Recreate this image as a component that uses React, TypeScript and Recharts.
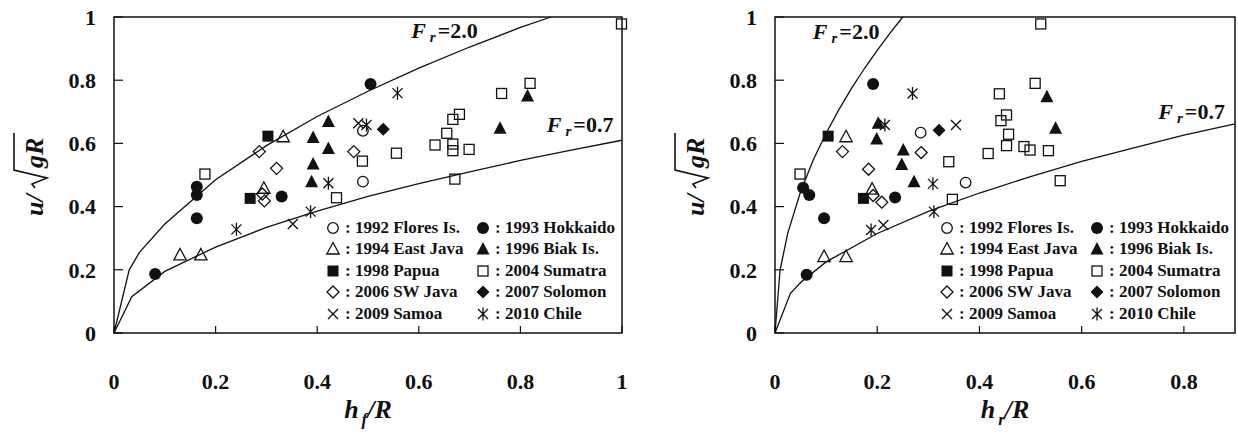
import {
  ScatterChart,
  Scatter,
  XAxis,
  YAxis,
  ReferenceArea,
  ReferenceDot,
  Legend,
} from 'recharts';

type Pair = [number, number];

// ---- left panel: h_f / R ----
const HF_FLORES: Pair[] = [[0.49, 0.479], [0.49, 0.64]];
const HF_HOKKAIDO: Pair[] = [[0.081, 0.187], [0.163, 0.363], [0.163, 0.437], [0.163, 0.463], [0.33, 0.432], [0.505, 0.788]];
const HF_EASTJAVA: Pair[] = [[0.13, 0.247], [0.171, 0.247], [0.295, 0.458], [0.333, 0.621]];
const HF_BIAK: Pair[] = [[0.389, 0.479], [0.392, 0.535], [0.392, 0.619], [0.422, 0.584], [0.422, 0.669], [0.76, 0.648], [0.814, 0.75]];
const HF_PAPUA: Pair[] = [[0.268, 0.426], [0.303, 0.623]];
const HF_SUMATRA: Pair[] = [
  [0.179, 0.503], [0.438, 0.428], [0.489, 0.544], [0.556, 0.569], [0.632, 0.595],
  [0.655, 0.632], [0.667, 0.598], [0.667, 0.577], [0.699, 0.581], [0.667, 0.676],
  [0.68, 0.692], [0.763, 0.758], [0.819, 0.79], [0.671, 0.487], [0.999, 0.978],
];
const HF_SWJAVA: Pair[] = [[0.286, 0.574], [0.32, 0.521], [0.472, 0.574], [0.292, 0.44], [0.296, 0.418]];
const HF_SOLOMON: Pair[] = [[0.53, 0.645]];
const HF_SAMOA: Pair[] = [[0.352, 0.345], [0.481, 0.664]];
const HF_CHILE: Pair[] = [[0.241, 0.328], [0.387, 0.384], [0.422, 0.474], [0.497, 0.658], [0.558, 0.759]];

const HF_FR20: Pair[] = [
  [0, 0], [0.03, 0.2], [0.05, 0.255], [0.1, 0.345], [0.2, 0.485], [0.3, 0.593],
  [0.4, 0.685], [0.5, 0.765], [0.6, 0.838], [0.7, 0.905], [0.8, 0.967], [0.86, 1.0],
];
const HF_FR07: Pair[] = [
  [0, 0], [0.035, 0.115], [0.1, 0.195], [0.2, 0.272], [0.3, 0.334], [0.4, 0.386],
  [0.5, 0.432], [0.6, 0.473], [0.7, 0.51], [0.8, 0.546], [0.9, 0.579], [1, 0.61],
];

// ---- right panel: h_r / R ----
const HR_FLORES: Pair[] = [[0.285, 0.634], [0.373, 0.476]];
const HR_HOKKAIDO: Pair[] = [[0.055, 0.46], [0.067, 0.437], [0.096, 0.363], [0.062, 0.184], [0.192, 0.788], [0.235, 0.429]];
const HR_EASTJAVA: Pair[] = [[0.096, 0.242], [0.139, 0.242], [0.19, 0.455], [0.139, 0.621]];
const HR_BIAK: Pair[] = [[0.202, 0.664], [0.199, 0.614], [0.251, 0.579], [0.248, 0.533], [0.272, 0.479], [0.532, 0.748], [0.549, 0.648]];
const HR_PAPUA: Pair[] = [[0.104, 0.623], [0.173, 0.426]];
const HR_SUMATRA: Pair[] = [
  [0.049, 0.503], [0.347, 0.423], [0.34, 0.542], [0.417, 0.568], [0.439, 0.757],
  [0.442, 0.672], [0.453, 0.69], [0.457, 0.629], [0.453, 0.593], [0.487, 0.59],
  [0.499, 0.579], [0.535, 0.577], [0.558, 0.482], [0.509, 0.79], [0.52, 0.978],
];
const HR_SWJAVA: Pair[] = [[0.132, 0.574], [0.183, 0.518], [0.286, 0.571], [0.192, 0.435], [0.209, 0.414]];
const HR_SOLOMON: Pair[] = [[0.321, 0.642]];
const HR_SAMOA: Pair[] = [[0.212, 0.342], [0.354, 0.658]];
const HR_CHILE: Pair[] = [[0.188, 0.326], [0.311, 0.384], [0.309, 0.472], [0.215, 0.658], [0.269, 0.758]];

const HR_FR20: Pair[] = [
  [0, 0], [0.01, 0.2], [0.025, 0.316], [0.05, 0.447], [0.075, 0.548], [0.1, 0.632],
  [0.125, 0.707], [0.15, 0.775], [0.175, 0.837], [0.2, 0.894], [0.225, 0.949], [0.25, 1.0],
];
const HR_FR07: Pair[] = [
  [0, 0], [0.03, 0.125], [0.05, 0.16], [0.1, 0.225], [0.2, 0.315], [0.3, 0.385],
  [0.4, 0.443], [0.5, 0.495], [0.6, 0.543], [0.7, 0.585], [0.8, 0.626], [0.9, 0.662],
];

const EVENT_NAMES = [
  '1992 Flores Is.', '1993 Hokkaido', '1994 East Java', '1996 Biak Is.', '1998 Papua',
  '2004 Sumatra', '2006 SW Java', '2007 Solomon', '2009 Samoa', '2010 Chile',
];
const EVENT_MARKERS = [
  'circleO', 'circle', 'triO', 'tri', 'square', 'squareO', 'diamondO', 'diamond', 'cross', 'star',
];

const HF_SETS = [HF_FLORES, HF_HOKKAIDO, HF_EASTJAVA, HF_BIAK, HF_PAPUA, HF_SUMATRA, HF_SWJAVA, HF_SOLOMON, HF_SAMOA, HF_CHILE];
const HR_SETS = [HR_FLORES, HR_HOKKAIDO, HR_EASTJAVA, HR_BIAK, HR_PAPUA, HR_SUMATRA, HR_SWJAVA, HR_SOLOMON, HR_SAMOA, HR_CHILE];

const Y_TICKS = [0, 0.2, 0.4, 0.6, 0.8, 1];
const HF_TICKS = [0, 0.2, 0.4, 0.6, 0.8, 1];
const HR_TICKS = [0, 0.2, 0.4, 0.6, 0.8];

const INK = '#111';
const SERIF = "'Liberation Serif', 'Times New Roman', serif";
const TICK_STYLE = { fontSize: 22, fill: INK, fontWeight: 'bold', fontFamily: SERIF };

const toPts = (arr: Pair[]) => arr.map(([x, y]) => ({ x, y }));
const fmt = (v: number) => (v === 0 || v === 1 ? String(v) : v.toFixed(1));

function Marker({ kind, cx, cy }: { kind: string; cx: number; cy: number }) {
  const sw = 1.3;
  switch (kind) {
    case 'circleO':
      return <circle cx={cx} cy={cy} r={5.3} fill="none" stroke={INK} strokeWidth={sw} />;
    case 'circle':
      return <circle cx={cx} cy={cy} r={6} fill={INK} />;
    case 'triO':
      return <polygon points={`${cx},${cy - 6.5} ${cx + 6.2},${cy + 5} ${cx - 6.2},${cy + 5}`} fill="none" stroke={INK} strokeWidth={sw} />;
    case 'tri':
      return <polygon points={`${cx},${cy - 7} ${cx + 6.5},${cy + 5.5} ${cx - 6.5},${cy + 5.5}`} fill={INK} />;
    case 'square':
      return <rect x={cx - 5.5} y={cy - 5.5} width={11} height={11} fill={INK} />;
    case 'squareO':
      return <rect x={cx - 5} y={cy - 5} width={10} height={10} fill="none" stroke={INK} strokeWidth={sw} />;
    case 'diamondO':
      return <polygon points={`${cx},${cy - 6} ${cx + 6},${cy} ${cx},${cy + 6} ${cx - 6},${cy}`} fill="none" stroke={INK} strokeWidth={sw} />;
    case 'diamond':
      return <polygon points={`${cx},${cy - 6.5} ${cx + 6.5},${cy} ${cx},${cy + 6.5} ${cx - 6.5},${cy}`} fill={INK} />;
    case 'cross':
      return (
        <path d={`M${cx - 5},${cy - 5}L${cx + 5},${cy + 5}M${cx - 5},${cy + 5}L${cx + 5},${cy - 5}`} stroke={INK} strokeWidth={sw} />
      );
    default:
      return (
        <path
          d={`M${cx - 5},${cy - 5}L${cx + 5},${cy + 5}M${cx - 5},${cy + 5}L${cx + 5},${cy - 5}M${cx},${cy - 6.5}L${cx},${cy + 6.5}`}
          stroke={INK}
          strokeWidth={sw}
        />
      );
  }
}

function FrText({ cx, cy, value }: { cx: number; cy: number; value: string }) {
  return (
    <text x={cx} y={cy} fill={INK} fontFamily={SERIF} fontWeight="bold" fontSize={22}>
      <tspan fontStyle="italic">F</tspan>
      <tspan fontStyle="italic" fontSize={15} dx={4} dy={4}>r</tspan>
      <tspan dx={2} dy={-4}>{'=' + value}</tspan>
    </text>
  );
}

function XTitle({ viewBox, sub }: any) {
  const cx = viewBox.x + viewBox.width / 2;
  const by = viewBox.y + 85;
  return (
    <text x={cx} y={by} textAnchor="middle" fill={INK} fontFamily={SERIF} fontWeight="bold" fontStyle="italic" fontSize={26}>
      <tspan>h</tspan>
      <tspan fontSize={17} dx={3} dy={7}>{sub}</tspan>
      <tspan dy={-7}>/R</tspan>
    </text>
  );
}

function YTitle({ viewBox }: any) {
  const cx = viewBox.x - 21;
  const cy = viewBox.y + viewBox.height / 2;
  return (
    <g transform={`translate(${cx},${cy}) rotate(-90)`} fill={INK} fontFamily={SERIF} fontWeight="bold" fontStyle="italic" fontSize={26}>
      <text x={-41} y={10}>u/</text>
      <path d="M-13,2 L-9,-1 L-3,14 L5,-19 L42,-19" fill="none" stroke={INK} strokeWidth={1.6} />
      <text x={7} y={10}>gR</text>
    </g>
  );
}

function LegendBox() {
  return (
    <div
      style={{
        display: 'grid',
        gridTemplateColumns: '150px 160px',
        fontFamily: SERIF,
        fontWeight: 'bold',
        fontSize: 17,
        color: INK,
      }}
    >
      {EVENT_NAMES.map((name, i) => (
        <div key={name} style={{ display: 'flex', alignItems: 'center', height: 21.5, whiteSpace: 'nowrap' }}>
          <svg width={14} height={14} style={{ overflow: 'visible' }}>
            <Marker kind={EVENT_MARKERS[i]} cx={7} cy={7} />
          </svg>
          <span style={{ marginLeft: 5 }}>{': ' + name}</span>
        </div>
      ))}
    </div>
  );
}

interface PanelProps {
  width: number;
  marginLeft: number;
  marginRight: number;
  xMax: number;
  xTicks: number[];
  sets: Pair[][];
  fr20: Pair[];
  fr07: Pair[];
  lab20: Pair;
  lab07: Pair;
  sub: string;
  legendLeft: number;
}

function Panel(p: PanelProps) {
  return (
    <ScatterChart
      width={p.width}
      height={437}
      margin={{ top: 17, right: p.marginRight, bottom: 44, left: p.marginLeft }}
    >
      <XAxis
        type="number"
        dataKey="x"
        domain={[0, p.xMax]}
        ticks={p.xTicks}
        interval={0}
        height={60}
        tickSize={-7}
        tickMargin={47}
        axisLine={false}
        tickLine={{ stroke: INK, strokeWidth: 1.2 }}
        tick={TICK_STYLE}
        tickFormatter={fmt}
        label={{ content: (lp: any) => <XTitle viewBox={lp.viewBox} sub={p.sub} /> }}
      />
      <YAxis
        type="number"
        dataKey="y"
        domain={[0, 1]}
        ticks={Y_TICKS}
        interval={0}
        width={60}
        tickSize={-9}
        tickMargin={27}
        axisLine={false}
        tickLine={{ stroke: INK, strokeWidth: 1.2 }}
        tick={TICK_STYLE}
        tickFormatter={fmt}
        label={{ content: (lp: any) => <YTitle viewBox={lp.viewBox} /> }}
      />
      <ReferenceArea x1={0} x2={p.xMax} y1={0} y2={1} fill="none" stroke={INK} strokeWidth={1.5} ifOverflow="visible" />
      <Scatter
        data={toPts(p.fr20)}
        line={{ stroke: INK, strokeWidth: 1.3 }}
        shape={() => <g />}
        legendType="none"
        isAnimationActive={false}
      />
      <Scatter
        data={toPts(p.fr07)}
        line={{ stroke: INK, strokeWidth: 1.3 }}
        shape={() => <g />}
        legendType="none"
        isAnimationActive={false}
      />
      {p.sets.map((set, i) => (
        <Scatter
          key={EVENT_NAMES[i]}
          name={EVENT_NAMES[i]}
          data={toPts(set)}
          shape={(sp: any) => <Marker kind={EVENT_MARKERS[i]} cx={sp.cx} cy={sp.cy} />}
          isAnimationActive={false}
        />
      ))}
      <ReferenceDot
        x={p.lab20[0]}
        y={p.lab20[1]}
        r={0}
        shape={(dp: any) => <FrText cx={dp.cx} cy={dp.cy} value="2.0" />}
      />
      <ReferenceDot
        x={p.lab07[0]}
        y={p.lab07[1]}
        r={0}
        shape={(dp: any) => <FrText cx={dp.cx} cy={dp.cy} value="0.7" />}
      />
      <Legend
        layout="vertical"
        align="center"
        verticalAlign="middle"
        content={() => <LegendBox />}
        wrapperStyle={{ left: p.legendLeft, top: 217, width: 310 }}
      />
    </ScatterChart>
  );
}

export default function App() {
  return (
    <div style={{ position: 'absolute', left: 0, top: 0, width: 1238, height: 437, display: 'flex', background: '#fff' }}>
      <Panel
        width={640}
        marginLeft={54}
        marginRight={18}
        xMax={1}
        xTicks={HF_TICKS}
        sets={HF_SETS}
        fr20={HF_FR20}
        fr07={HF_FR07}
        lab20={[0.585, 0.934]}
        lab07={[0.852, 0.636]}
        sub="f"
        legendLeft={326}
      />
      <Panel
        width={598}
        marginLeft={75}
        marginRight={3}
        xMax={0.9}
        xTicks={HR_TICKS}
        sets={HR_SETS}
        fr20={HR_FR20}
        fr07={HR_FR07}
        lab20={[0.074, 0.93]}
        lab07={[0.75, 0.677]}
        sub="r"
        legendLeft={300}
      />
    </div>
  );
}
